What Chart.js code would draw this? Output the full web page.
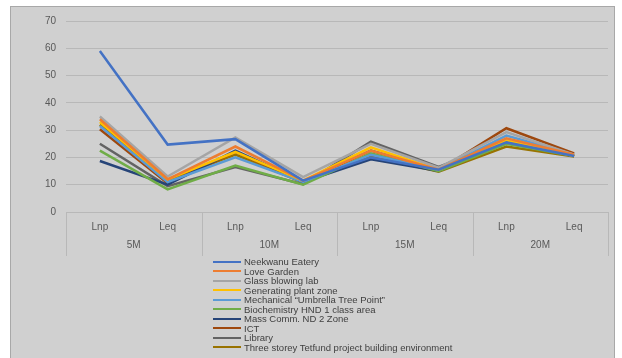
<!DOCTYPE html>
<html>
<head>
<meta charset="utf-8">
<script src="https://cdn.jsdelivr.net/npm/chart.js@4.4.1/dist/chart.umd.min.js"></script>
<style>
    body { margin: 0; background: #ffffff; width: 622px; height: 358px; overflow: hidden; position: relative; font-family: "Liberation Sans", Arial, sans-serif; }
    #frame { position: absolute; left: 10px; top: 6px; width: 605px; height: 360px; background: #d0d0d0; border: 1px solid #a8a8a8; box-sizing: border-box; }
    #chartCanvas { position: absolute; left: 0; top: 0; }
    #legend { position: absolute; left: 213px; top: 257px; margin: 0; padding: 0; list-style: none; }
    #legend li { display: flex; align-items: center; height: 9.5px; font-size: 9.5px; color: #404040; white-space: nowrap; }
    #legend .swatch { width: 28px; height: 2px; margin-right: 3px; }
</style>
</head>
<body>
<div id="frame"></div>
<canvas id="chartCanvas" width="622" height="358"></canvas>
<ul id="legend"></ul>
<script>
// Categories
const levels = ['Lnp', 'Leq', 'Lnp', 'Leq', 'Lnp', 'Leq', 'Lnp', 'Leq'];
const distances = ['5M', '10M', '15M', '20M'];

// Series values
const neekwanu     = [59,   24.7, 26.7, 11.5, 20.0, 15.5, 25.5, 20.5];
const loveGarden   = [34,   12.0, 24.0, 11.5, 22.5, 15.5, 27.0, 21.0];
const glassBlowing = [35,   13.0, 27.3, 12.8, 25.0, 16.2, 29.3, 21.0];
const generating   = [33,   12.0, 22.0, 11.5, 23.7, 15.5, 26.3, 20.5];
const mechanical   = [31.5, 11.0, 20.0, 11.0, 21.0, 15.5, 28.0, 21.0];
const biochemistry = [22.5,  8.3, 17.0, 10.0, 21.5, 15.0, 25.0, 20.5];
const massComm     = [18.7, 10.0, 22.5, 11.0, 19.3, 15.0, 25.5, 20.5];
const ict          = [30.3, 10.5, 22.0, 11.0, 22.5, 15.3, 30.7, 21.5];
const library      = [25,    9.5, 16.5, 10.2, 25.8, 16.5, 26.0, 20.5];
const threeStorey  = [32,   11.5, 21.0, 10.8, 20.5, 14.8, 24.0, 20.3];

const seriesNames = [
    'Neekwanu Eatery',
    'Love Garden',
    'Glass blowing lab',
    'Generating plant zone',
    'Mechanical \u201cUmbrella Tree Point\u201d',
    'Biochemistry HND 1 class area',
    'Mass Comm. ND 2 Zone',
    'ICT',
    'Library',
    'Three storey Tetfund project building environment'
];
const seriesValues = [neekwanu, loveGarden, glassBlowing, generating, mechanical,
    biochemistry, massComm, ict, library, threeStorey];
const seriesColors = ['#4472c4', '#ed7d31', '#a5a5a5', '#ffc000', '#5b9bd5',
    '#70ad47', '#264478', '#9e480e', '#636363', '#997300'];

const gridColor = '#b8b8b8';
const textColor = '#595959';

// Lines between the distance groups under the axis
const groupDividers = {
    id: 'groupDividers',
    afterDraw(chart) {
        const x2 = chart.scales.x2;
        const ctx = chart.ctx;
        ctx.save();
        ctx.strokeStyle = gridColor;
        ctx.lineWidth = 1;
        for (let i = 0; i <= distances.length; i++) {
            const px = Math.round(x2.getPixelForValue(i - 0.5)) + 0.5;
            ctx.beginPath();
            ctx.moveTo(px, chart.chartArea.bottom);
            ctx.lineTo(px, x2.bottom);
            ctx.stroke();
        }
        ctx.restore();
    }
};

const datasets = seriesNames.map((name, i) => ({
    label: name,
    data: seriesValues[i],
    borderColor: seriesColors[i],
    backgroundColor: seriesColors[i],
    borderWidth: 2.5,
    pointRadius: 0,
    tension: 0,
    xAxisID: 'x'
}));

const chart = new Chart(document.getElementById('chartCanvas'), {
    type: 'line',
    data: { labels: levels, datasets: datasets },
    plugins: [groupDividers],
    options: {
        responsive: false,
        animation: false,
        layout: { padding: { left: 10, right: 14, top: 21, bottom: 102 } },
        plugins: {
            legend: { display: false },
            tooltip: { enabled: false }
        },
        scales: {
            x: {
                type: 'category',
                offset: true,
                grid: { display: false, drawTicks: false },
                border: { display: true, color: gridColor },
                ticks: {
                    color: textColor,
                    font: { family: 'Liberation Sans', size: 10 },
                    padding: 9,
                    maxRotation: 0,
                    autoSkip: false
                },
                afterFit: s => { s.height = 22; }
            },
            x2: {
                type: 'category',
                position: 'bottom',
                labels: distances,
                offset: true,
                grid: { display: false, drawTicks: false },
                border: { display: false },
                ticks: {
                    color: textColor,
                    font: { family: 'Liberation Sans', size: 10 },
                    padding: 5,
                    maxRotation: 0
                }
            },
            y: {
                min: 0,
                max: 70,
                ticks: {
                    stepSize: 10,
                    color: textColor,
                    font: { family: 'Liberation Sans', size: 10 },
                    padding: 10
                },
                grid: { color: gridColor, drawTicks: false },
                border: { display: false },
                afterFit: s => { s.width = 56; }
            }
        }
    }
});

// HTML legend in one column
const legendList = document.getElementById('legend');
chart.options.plugins.legend.labels.generateLabels(chart).forEach(item => {
    const li = document.createElement('li');
    const swatch = document.createElement('span');
    swatch.className = 'swatch';
    swatch.style.background = item.strokeStyle;
    li.appendChild(swatch);
    li.appendChild(document.createTextNode(item.text));
    legendList.appendChild(li);
});
</script>
</body>
</html>
